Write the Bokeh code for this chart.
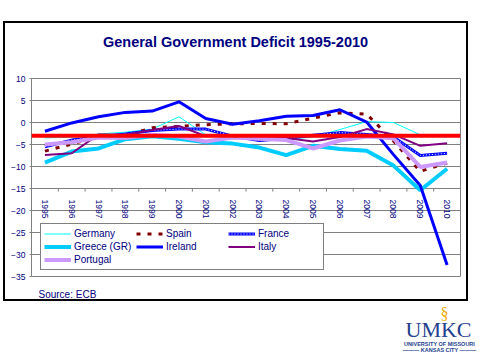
from bokeh.plotting import figure
from bokeh.models import (FactorRange, Range1d, LinearAxis, CategoricalAxis, FixedTicker,
                          Legend, LegendItem, Span, Label, ColumnDataSource)
from bokeh.transform import dodge
from bokeh.embed import file_html
from bokeh.resources import INLINE

years = [str(y) for y in range(1995, 2011)]
germany = [-3.5, -3.3, -2.6, -2.2, -1.5, 1.3, -2.8, -3.6, -4.0, -3.8, -3.3, -1.6, 0.2, 0.0, -2.8, -3.3]
spain = [-6.5, -4.9, -3.2, -3.0, -1.2, -0.9, -0.5, -0.3, -0.2, -0.3, 1.0, 2.2, 1.9, -4.2, -11.1, -9.2]
france = [-5.5, -4.0, -3.3, -2.6, -1.8, -1.5, -1.5, -3.1, -4.1, -3.6, -2.9, -2.3, -2.7, -3.3, -7.5, -7.0]
greece = [-9.1, -6.6, -5.9, -3.8, -3.1, -3.7, -4.5, -4.8, -5.7, -7.4, -5.3, -6.0, -6.4, -9.8, -15.4, -10.5]
ireland = [-2.0, -0.1, 1.3, 2.3, 2.6, 4.7, 0.9, -0.4, 0.4, 1.4, 1.6, 2.9, 0.1, -7.3, -14.3, -32.4]
italy = [-7.4, -7.0, -2.7, -2.8, -1.7, -0.8, -3.1, -2.9, -3.5, -3.5, -4.3, -3.3, -1.5, -2.7, -5.3, -4.7]
portugal = [-5.0, -4.5, -3.4, -3.5, -2.8, -3.2, -4.3, -3.4, -3.7, -4.0, -5.9, -4.1, -3.2, -3.6, -10.1, -9.1]
limit = -3
y_min, y_max = -35, 10
y_ticks = [-35, -30, -25, -20, -15, -10, -5, 0, 5, 10]
axis_cross = -15

FONT = "Liberation Sans"
NAVY = "#000080"
GREY = "#808080"

# frame (plot area) geometry in page pixels
FL, FT, FW, FH = 31, 78, 429, 198
W, H = 480, 360

p = figure(width=W, height=H, x_range=FactorRange(*years), y_range=Range1d(y_min, y_max),
           output_backend="svg", toolbar_location=None,
           x_axis_location=None, y_axis_location=None,
           min_border_left=FL, min_border_right=W - FL - FW,
           min_border_top=FT, min_border_bottom=H - FT - FH)
p.background_fill_color = "white"
p.border_fill_color = "white"
p.border_fill_alpha = 0
p.outline_line_color = GREY
p.outline_line_width = 1
p.xgrid.visible = False
p.ygrid.ticker = FixedTicker(ticks=y_ticks)
p.ygrid.grid_line_color = GREY
p.ygrid.grid_line_width = 1

# outer black frame of the slide chart (drawn behind the transparent canvas border)
p.styles = {
    "background-color": "white",
    "background-image": ", ".join(["linear-gradient(#000, #000)"] * 4),
    "background-position": "3px 21px, 466px 21px, 3px 21px, 3px 299px",
    "background-size": "2px 280px, 2px 280px, 465px 2px, 465px 2px",
    "background-repeat": "no-repeat",
}

yaxis = LinearAxis(ticker=FixedTicker(ticks=y_ticks))
yaxis.axis_line_color = GREY
yaxis.major_tick_line_color = GREY
yaxis.major_tick_out = 2
yaxis.major_tick_in = 0
yaxis.minor_tick_line_color = None
yaxis.major_label_standoff = 4
yaxis.major_label_text_font = FONT
yaxis.major_label_text_font_size = "8.5px"
yaxis.major_label_text_color = NAVY
p.add_layout(yaxis, "left")

xaxis = CategoricalAxis(fixed_location=axis_cross)
xaxis.axis_line_color = None
xaxis.major_tick_line_color = None
xaxis.major_label_orientation = "vertical"
xaxis.major_label_standoff = 5
xaxis.major_label_text_font = FONT
xaxis.major_label_text_font_size = "8.5px"
xaxis.major_label_text_color = NAVY
p.add_layout(xaxis, "below")

# tick marks between categories, hanging below the crossing line
ticks_src = ColumnDataSource(dict(x=years[:-1], y0=[axis_cross] * (len(years) - 1),
                                  y1=[axis_cross - 0.7] * (len(years) - 1)))
p.segment(x0=dodge("x", 0.5, range=p.x_range), x1=dodge("x", 0.5, range=p.x_range),
          y0="y0", y1="y1", source=ticks_src, line_color=GREY, line_width=1)

r_ger = p.line(years, germany, line_color="#00FFFF", line_width=1)
r_spa = p.line(years, spain, line_color="#800000", line_width=3, line_dash="4 7")
r_fra1 = p.line(years, france, line_color="#0000FF", line_width=3)
r_fra2 = p.line(years, france, line_color="white", line_width=1, line_dash="1 2")
r_gre = p.line(years, greece, line_color="#00CCFF", line_width=4)
r_ire = p.line(years, ireland, line_color="#0000FF", line_width=3)
r_ita = p.line(years, italy, line_color="#800080", line_width=2)
r_por = p.line(years, portugal, line_color="#CC99FF", line_width=4)

p.add_layout(Span(location=limit, dimension="width", line_color="#FF0000", line_width=4))

legend = Legend(items=[
    LegendItem(label="Germany", renderers=[r_ger]),
    LegendItem(label="Spain", renderers=[r_spa]),
    LegendItem(label="France", renderers=[r_fra1, r_fra2]),
    LegendItem(label="Greece (GR)", renderers=[r_gre]),
    LegendItem(label="Ireland", renderers=[r_ire]),
    LegendItem(label="Italy", renderers=[r_ita]),
    LegendItem(label="Portugal", renderers=[r_por]),
], location=(9, 6), orientation="horizontal", ncols=3)
legend.glyph_width = 27
legend.glyph_height = 13
legend.label_height = 13
legend.label_width = 62
legend.label_standoff = 3
legend.spacing = 0
legend.padding = 3
legend.margin = 0
legend.label_text_font = FONT
legend.label_text_font_size = "10px"
legend.label_text_color = NAVY
legend.border_line_color = "black"
legend.border_line_width = 1
legend.background_fill_color = "white"
legend.background_fill_alpha = 1
p.add_layout(legend)

# texts outside the plot area: placed in side panels (not clipped), positioned via the plot scales
cat_w = FW / len(years)
ppu = FH / (y_max - y_min)


def pos(px, py):
    return (px - FL) / cat_w, y_max - (py - FT) / ppu


def add_text(side, px, py, text, size, align="left", baseline="middle", style="normal",
             color=NAVY, font=FONT):
    x, y = pos(px, py)
    p.add_layout(Label(x=x, y=y, text=text, text_align=align, text_baseline=baseline,
                       text_font=font, text_font_size=size, text_font_style=style,
                       text_color=color), side)


add_text("above", 235, 41, "General Government Deficit 1995-2010", "14.5px", align="center",
         style="bold")
add_text("below", 38, 294, "Source: ECB", "10px")

LOGO = "#23408E"
add_text("below", 444, 313, "§", "16px", align="center", color="#F2A900", font="Liberation Serif")
add_text("above", 438, 329, "UMKC", "22px", align="center", color=LOGO,
         font="Liberation Serif")
add_text("above", 439, 343, "UNIVERSITY OF MISSOURI", "5.5px", align="center", style="bold",
         color=LOGO)
add_text("above", 439, 349, "——— KANSAS CITY ———", "5.5px", align="center", style="bold",
         color=LOGO)

open("out.html", "w").write(file_html(p, INLINE))
